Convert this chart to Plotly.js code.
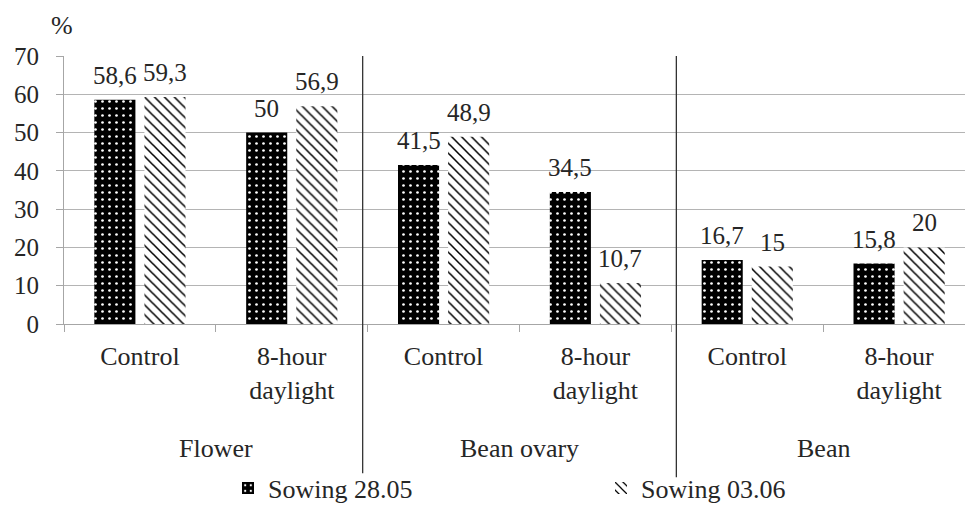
<!DOCTYPE html>
<html>
<head>
<meta charset="utf-8">
<script src="https://cdn.plot.ly/plotly-3.0.1.min.js"></script>
<style>
html,body{margin:0;padding:0;background:#fff;overflow:hidden;}
#chart{width:965px;height:512px;}
</style>
</head>
<body>
<div id="chart"></div>
<script>
// ---- data ----
const subCategories = ["Control", "8-hour<br>daylight", "Control", "8-hour<br>daylight", "Control", "8-hour<br>daylight"];
const groups = ["Flower", "Bean ovary", "Bean"];
const groupSpans = [[0, 1], [2, 3], [4, 5]];
const seriesNames = ["Sowing 28.05", "Sowing 03.06"];
const sowing2805 = [58.6, 50, 41.5, 34.5, 16.7, 15.8];
const sowing0306 = [59.3, 56.9, 48.9, 10.7, 15, 20];
const yTicks = [0, 10, 20, 30, 40, 50, 60, 70];

const FONT = "Liberation Serif";
const TXT = "#262626";
const GRID = "#b4b4b4";
const xIdx = subCategories.map((_, i) => i);
const fmt = v => String(v).replace(".", ",");

const traces = [
  {
    type: "bar", name: seriesNames[0], x: xIdx, y: sowing2805, legend: "legend",
    marker: { color: "#000", line: { width: 0 },
      pattern: { shape: ".", bgcolor: "#000", fgcolor: "#fff", size: 7, solidity: 0.12 } },
    hoverinfo: "skip"
  },
  {
    type: "bar", name: seriesNames[1], x: xIdx, y: sowing0306, legend: "legend2",
    marker: { color: "#fff", line: { width: 0 },
      pattern: { shape: "\\", bgcolor: "#fff", fgcolor: "#000", size: 7, solidity: 0.22 } },
    hoverinfo: "skip"
  }
];

const annotations = [];
[sowing2805, sowing0306].forEach((arr, s) => {
  arr.forEach((v, i) => {
    annotations.push({
      x: i, y: v, xref: "x", yref: "y", text: fmt(v), showarrow: false,
      xanchor: "center", yanchor: "bottom", xshift: s === 0 ? -25 : 25, yshift: 9,
      font: { family: FONT, size: 25, color: TXT }
    });
  });
});
groups.forEach((g, k) => {
  const span = groupSpans[k];
  annotations.push({
    x: (span[0] + span[1]) / 2, y: -0.465, xref: "x", yref: "paper", text: g,
    showarrow: false, xanchor: "center", yanchor: "middle",
    font: { family: FONT, size: 26, color: TXT }
  });
});
annotations.push({
  x: -0.002, y: 1.114, xref: "paper", yref: "paper", text: "%", showarrow: false,
  xanchor: "center", yanchor: "middle", font: { family: FONT, size: 26, color: TXT }
});

const minorVals = xIdx.map(i => i - 0.5);

const shapes = [
  { type: "line", xref: "x", yref: "paper", x0: 1.5 - 5 / 151.8, x1: 1.5 - 5 / 151.8, y0: 1, y1: -0.557,
    line: { color: "#333", width: 1.3 } },
  { type: "line", xref: "x", yref: "paper", x0: 3.5 + 5 / 151.8, x1: 3.5 + 5 / 151.8, y0: 1, y1: -0.572,
    line: { color: "#333", width: 1.3 } }
];

const legendBase = {
  orientation: "h", xanchor: "left", y: -0.6125, yanchor: "middle",
  font: { family: FONT, size: 26, color: TXT }, bgcolor: "rgba(0,0,0,0)"
};

const layout = {
  width: 965, height: 512,
  margin: { l: 64, r: 0, t: 56, b: 185, pad: 0 },
  paper_bgcolor: "#fff", plot_bgcolor: "#fff",
  font: { family: FONT, size: 26, color: TXT },
  barmode: "group", bargap: 0.34, bargroupgap: 0.18,
  showlegend: true,
  legend: Object.assign({}, legendBase, { x: (228 - 64) / 901 }),
  legend2: Object.assign({}, legendBase, { x: (601 - 64) / 901 }),
  xaxis: {
    range: [-0.5, 5.434], fixedrange: true,
    tickmode: "array", tickvals: xIdx, ticktext: subCategories, ticks: "",
    tickfont: { family: FONT, size: 26, color: TXT },
    showline: true, linecolor: "#a6a6a6", linewidth: 1, showgrid: false, zeroline: false,
    minor: { tickmode: "array", tickvals: minorVals, ticks: "outside", ticklen: 7, tickcolor: "#a6a6a6", tickwidth: 1, showgrid: false },
    ticklabelstandoff: 9
  },
  yaxis: {
    range: [0, 70], fixedrange: true,
    tickmode: "array", tickvals: yTicks, ticktext: yTicks.map(String),
    ticks: "outside", ticklen: 7, tickcolor: "#a6a6a6",
    tickfont: { family: FONT, size: 25, color: TXT },
    showline: true, linecolor: "#a6a6a6", linewidth: 1,
    showgrid: true, gridcolor: GRID, gridwidth: 1, zeroline: false,
    ticklabelstandoff: 12
  },
  annotations: annotations,
  shapes: shapes
};

Plotly.newPlot("chart", traces, layout, { displayModeBar: false, staticPlot: true });
</script>
</body>
</html>
